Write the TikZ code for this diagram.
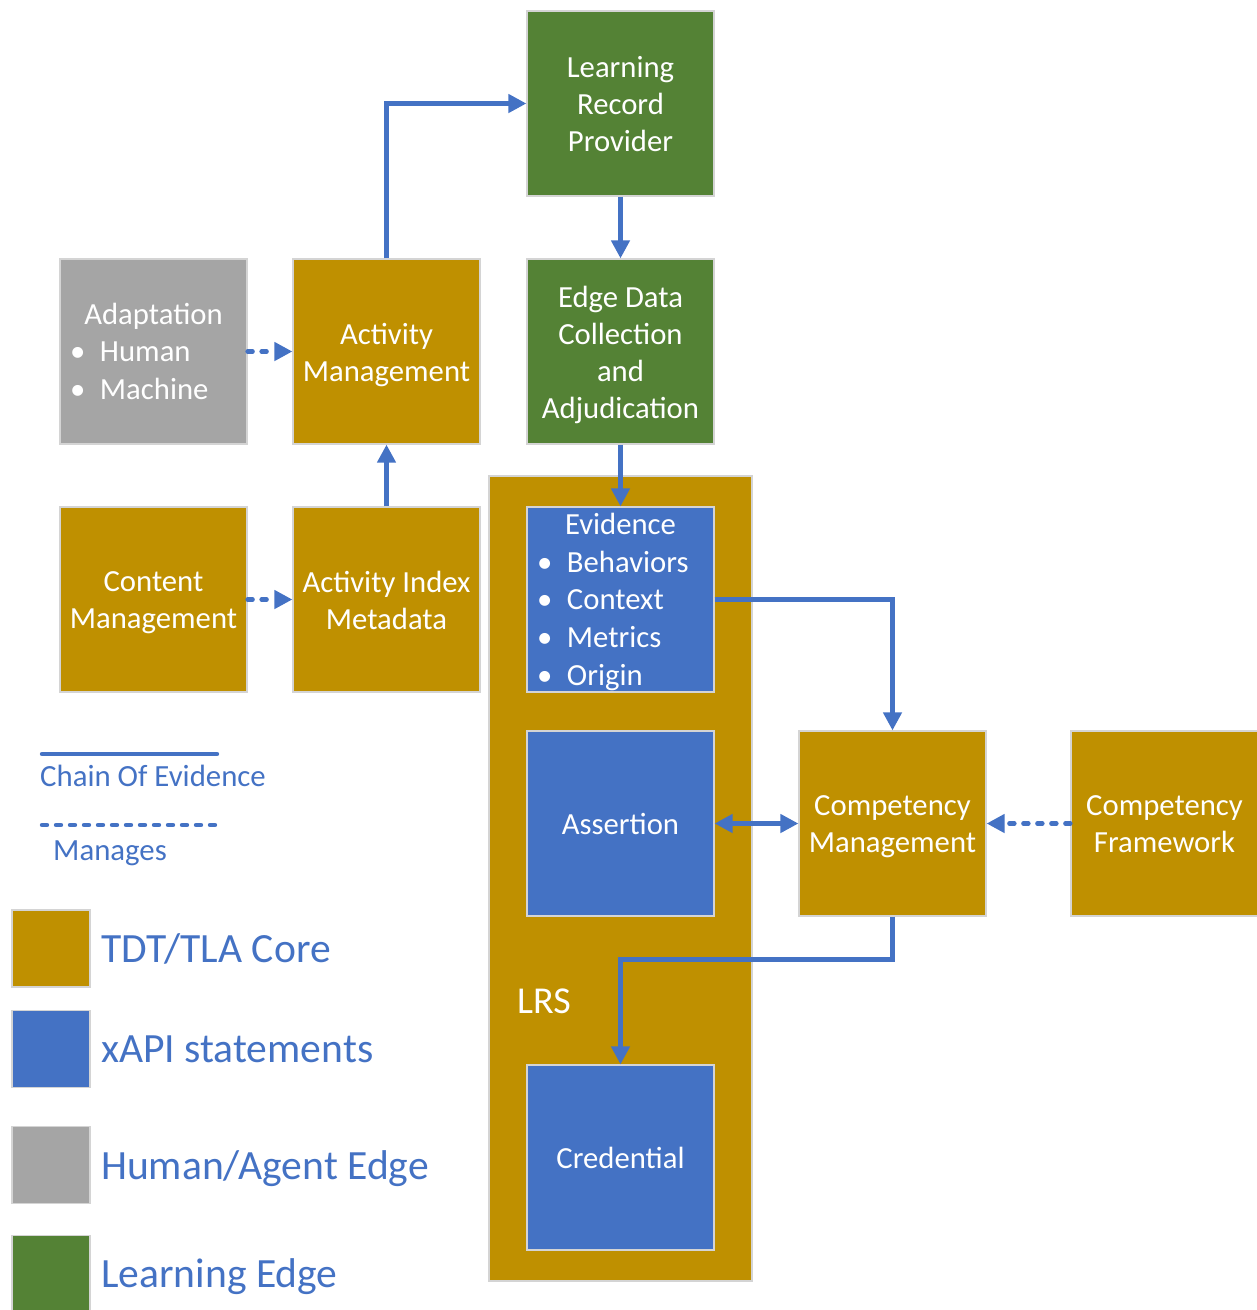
\documentclass[tikz,border=0pt]{standalone}
\usepackage{fontspec}
\setmainfont{Carlito}
\usetikzlibrary{arrows.meta}

\definecolor{core}{HTML}{BF9000}
\definecolor{xapi}{HTML}{4472C4}
\definecolor{human}{HTML}{A5A5A5}
\definecolor{learn}{HTML}{548235}
\definecolor{rim}{HTML}{D4D4D4}

\newcommand{\boxfont}{\fontsize{30.7}{37.1}\selectfont}
\newcommand{\listfont}{\fontsize{30.7}{37.7}\selectfont}
\newcommand{\keyfont}{\fontsize{30.8}{37}\selectfont}
\newcommand{\bigkeyfont}{\fontsize{41.6}{50}\selectfont}
\newcommand{\bul}{\makebox[30pt][l]{\textbullet}}
\newcommand{\ctr}[1]{\makebox[167pt][c]{#1}}
% fixed line box so that every caption centres its lines the same way
\newcommand{\linestrut}{\rule[-6.5pt]{0pt}{31.5pt}}

\tikzset{
  block/.style={draw=rim, line width=1.2pt, minimum width=187pt, minimum height=185pt, inner sep=0pt},
  corebox/.style={block, fill=core},
  xapibox/.style={block, fill=xapi},
  humanbox/.style={block, fill=human},
  learnbox/.style={block, fill=learn},
  caption/.style={text=white, inner sep=0pt, align=center, font=\boxfont,
    execute at begin node=\linestrut, execute at end node=\linestrut},
  multicaption/.style={caption, yshift=-4pt},
  onecaption/.style={caption, yshift=-2pt},
  listcaption/.style={caption, text width=167pt, align=left, font=\listfont, yshift=-1pt},
  swatch/.style={draw=rim, line width=1.2pt, minimum width=78pt, minimum height=77pt, inner sep=0pt},
  keytext/.style={text=xapi, inner sep=0pt, anchor=base west},
  flow/.style={draw=xapi, line width=4.4pt, -{Triangle[length=18pt,width=18pt]}},
  twoway/.style={draw=xapi, line width=4.4pt, {Triangle[length=18pt,width=18pt]}-{Triangle[length=18pt,width=18pt]}},
  manage/.style={flow, line cap=round, dash pattern=on 5pt off 9pt},
}

\begin{document}
\begin{tikzpicture}[x=1pt, y=-1pt]
  \useasboundingbox (0,0) rectangle (1257,1310);

  % LRS container
  \node[draw=rim, line width=1.2pt, fill=core, minimum width=263pt, minimum height=805pt, inner sep=0pt] (lrs) at (620.5,878.5) {};
  \node[text=white, inner sep=0pt, anchor=base west, font=\fontsize{38}{45}\selectfont] (lrslabel) at (517,1013) {LRS};

  % Learning edge
  \node[learnbox] (lrp) at (620.5,103.5) {};
  \node[multicaption] (lrptext) at (lrp.center) {Learning\\Record\\Provider};
  \node[learnbox] (edc) at (620.5,351.5) {};
  \node[multicaption] (edctext) at (edc.center) {Edge Data\\Collection\\and\\Adjudication};

  % Human/agent edge and core services
  \node[humanbox] (adp) at (153.5,351.5) {};
  \node[listcaption] (adptext) at (adp.center) {\ctr{Adaptation}\\\bul Human\\\bul Machine};
  \node[corebox] (am) at (386.5,351.5) {};
  \node[multicaption] (amtext) at (am.center) {Activity\\Management};
  \node[corebox] (cmg) at (153.5,599.5) {};
  \node[multicaption] (cmgtext) at (cmg.center) {Content\\Management};
  \node[corebox] (aim) at (386.5,599.5) {};
  \node[multicaption] (aimtext) at (aim.center) {Activity Index\\Metadata};

  % xAPI statements inside the LRS
  \node[xapibox] (ev) at (620.5,599.5) {};
  \node[listcaption] (evtext) at (ev.center)
    {\ctr{Evidence}\\\bul Behaviors\\\bul Context\\\bul Metrics\\\bul Origin};
  \node[xapibox] (asr) at (620.5,823.5) {};
  \node[onecaption] (asrtext) at (asr.center) {Assertion};
  \node[xapibox] (cred) at (620.5,1157.5) {};
  \node[onecaption] (credtext) at (cred.center) {Credential};

  % Competency services
  \node[corebox] (cm) at (892.5,823.5) {};
  \node[multicaption] (cmtext) at (cm.center) {Competency\\Management};
  \node[corebox] (cf) at (1164.5,823.5) {};
  \node[multicaption] (cftext) at (cf.center) {Competency\\Framework};

  % Chain of evidence
  \draw[flow] (am.north) |- (lrp.west);
  \draw[flow] (lrp.south) -- (edc.north);
  \draw[flow] (edc.south) -- (ev.north);
  \draw[flow] (aim.north) -- (am.south);
  \draw[flow] (ev.east) -| (cm.north);
  \draw[twoway] (asr.east) -- (cm.west);
  \draw[flow] (cm.south) -- ++(0,43) -| (cred.north);

  % Management relations
  \draw[manage] (adp.east) -- (am.west);
  \draw[manage] (cmg.east) -- (aim.west);
  \draw[manage] (cf.west) -- (cm.east);

  % Key
  \coordinate (solidA) at (42,754);
  \coordinate (solidB) at (217,754);
  \coordinate (dotA) at (42,825);
  \coordinate (dotB) at (217,825);
  \draw[xapi, line width=4.4pt, line cap=round] (solidA) -- (solidB);
  \draw[xapi, line width=4.4pt, line cap=round, dash pattern=on 5pt off 9pt] (dotA) -- (dotB);
  \node[keytext, font=\keyfont] (chainkey) at (40,786) {Chain Of Evidence};
  \node[keytext, font=\keyfont] (managekey) at (53,860) {Manages};

  \node[swatch, fill=core] (swcore) at (51,948.5) {};
  \node[swatch, fill=xapi] (swxapi) at (51,1049) {};
  \node[swatch, fill=human] (swhuman) at (51,1165) {};
  \node[swatch, fill=learn] (swlearn) at (51,1274) {};
  \node[keytext, font=\bigkeyfont] (corekey) at (101,962) {TDT/TLA Core};
  \node[keytext, font=\bigkeyfont] (xapikey) at (101,1062) {xAPI statements};
  \node[keytext, font=\bigkeyfont] (humankey) at (101,1179) {Human/Agent Edge};
  \node[keytext, font=\bigkeyfont] (learnkey) at (101,1287) {Learning Edge};
\end{tikzpicture}
\end{document}
